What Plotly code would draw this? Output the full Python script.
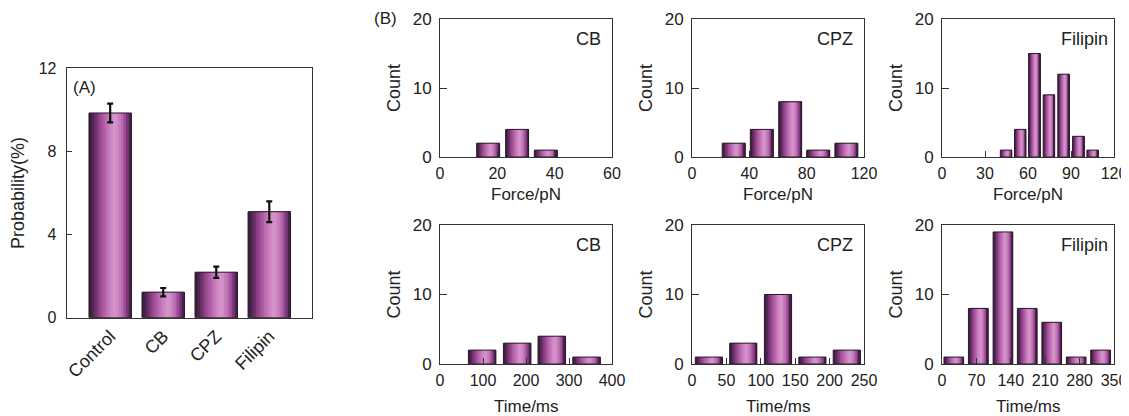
import plotly.graph_objects as go

# ---------------- data ----------------
groups = ["Control", "CB", "CPZ", "Filipin"]
prob = [9.85, 1.23, 2.19, 5.1]
prob_err = [0.45, 0.2, 0.27, 0.5]

force_cb_x = [16.8, 26.9, 36.9]
force_cb_y = [2, 4, 1]
force_cpz_x = [29.1, 48.7, 68.5, 88.1, 107.7]
force_cpz_y = [2, 4, 8, 1, 2]
force_fil_x = [44.7, 54.6, 64.4, 74.6, 84.8, 95.1, 105.1]
force_fil_y = [1, 4, 15, 9, 12, 3, 1]

time_cb_x = [98, 179.5, 260, 340.8]
time_cb_y = [2, 3, 4, 1]
time_cpz_x = [24.5, 74.5, 125, 175, 225]
time_cpz_y = [1, 3, 10, 1, 2]
time_fil_x = [24, 73.8, 124, 173.4, 223.3, 273, 322.6]
time_fil_y = [1, 8, 19, 8, 6, 1, 2]

force_cb_ticks = [0, 20, 40, 60]
force_cpz_ticks = [0, 40, 80, 120]
force_fil_ticks = [0, 30, 60, 90, 120]
time_cb_ticks = [0, 100, 200, 300, 400]
time_cpz_ticks = [0, 50, 100, 150, 200, 250]
time_fil_ticks = [0, 70, 140, 210, 280, 350]
count_ticks = [0, 10, 20]
prob_ticks = [0, 4, 8, 12]

# ---------------- style ----------------
WIN_W, WIN_H = 1129, 416
OFF = 8  # default page body margin
W, H = WIN_W - OFF, WIN_H - OFF
FONT = "Arial, Liberation Sans, sans-serif"
TXT = "#222222"
LINE = "#333333"
TICK_SIZE = 17
TITLE_SIZE = 18
NSLICE = 16
stops = [(0.0, (42, 26, 42)), (0.12, (96, 42, 94)), (0.3, (166, 80, 158)),
         (0.5, (204, 130, 192)), (0.62, (214, 152, 204)), (0.78, (188, 106, 178)),
         (0.9, (128, 55, 126)), (1.0, (46, 24, 48))]


def grad(t):
    for (p0, c0), (p1, c1) in zip(stops[:-1], stops[1:]):
        if p0 <= t <= p1:
            f = (t - p0) / (p1 - p0)
            c = [round(a + (b - a) * f) for a, b in zip(c0, c1)]
            return "rgb(%d,%d,%d)" % tuple(c)
    return "rgb(%d,%d,%d)" % stops[-1][1]


def fx(X):
    return (X - OFF) / W


def fy(Y):
    return 1 - (Y - OFF) / H


def px_x(a, b):
    return [fx(a), fx(b)]


def px_y(top, bottom):
    return [fy(bottom), fy(top)]


fig = go.Figure()


def add_bars(x, y, w, xa, ya, err=None):
    dw = w / NSLICE
    for i in range(NSLICE):
        t = (i + 0.5) / NSLICE
        fig.add_trace(go.Bar(x=x, y=y, width=w - i * dw, offset=-w / 2 + i * dw,
                             marker=dict(color=grad(t), line=dict(width=0)),
                             xaxis=xa, yaxis=ya, hoverinfo="skip", showlegend=False))
    fig.add_trace(go.Bar(x=x, y=y, width=w, offset=-w / 2,
                         marker=dict(color="rgba(0,0,0,0)", line=dict(color="#2a1a2a", width=1)),
                         error_y=(dict(type="data", array=err, color="#111111", thickness=2.2, width=3)
                                  if err is not None else None),
                         xaxis=xa, yaxis=ya, showlegend=False))


# Panel A
add_bars(groups, prob, 0.8, "x", "y", err=prob_err)

hist = [
    (force_cb_x, force_cb_y, 8, force_cb_ticks, [0, 60], "Force/pN", "CB", 0),
    (force_cpz_x, force_cpz_y, 16, force_cpz_ticks, [0, 120], "Force/pN", "CPZ", 0),
    (force_fil_x, force_fil_y, 8, force_fil_ticks, [0, 120], "Force/pN", "Filipin", 0),
    (time_cb_x, time_cb_y, 64, time_cb_ticks, [0, 400], "Time/ms", "CB", 1),
    (time_cpz_x, time_cpz_y, 39.5, time_cpz_ticks, [0, 250], "Time/ms", "CPZ", 1),
    (time_fil_x, time_fil_y, 40, time_fil_ticks, [0, 350], "Time/ms", "Filipin", 1),
]
cols = [(440, 612), (692, 864), (942, 1114)]
rows = [(19, 157), (225, 364)]
xtitle_y = [195, 406]

axis_common = dict(showline=True, linecolor=LINE, linewidth=1, mirror=True, automargin=False,
                   showgrid=False, zeroline=False, ticks="inside", tickcolor=LINE,
                   tickfont=dict(family=FONT, size=TICK_SIZE, color=TXT))

layout = dict(
    width=W, height=H, margin=dict(l=0, r=0, t=0, b=0, autoexpand=False),
    paper_bgcolor="white", plot_bgcolor="white", barmode="overlay",
    showlegend=False, font=dict(family=FONT, color=TXT),
    xaxis=dict(domain=px_x(66.7, 311.7), anchor="y", range=[-0.82, 3.8], type="category",
               showline=True, linecolor=LINE, linewidth=1, mirror=True, showgrid=False,
               zeroline=False, ticks="", tickangle=-45, automargin=False,
               tickfont=dict(family=FONT, size=18, color=TXT)),
    yaxis=dict(domain=px_y(68.3, 317.7), anchor="x", range=[0, 12], tickvals=prob_ticks,
               showline=True, linecolor=LINE, linewidth=1, mirror=True, showgrid=False,
               zeroline=False, ticks="inside", ticklen=5, tickcolor=LINE, automargin=False,
               ticklabelstandoff=6,
               tickfont=dict(family=FONT, size=16, color=TXT),
               title=dict(text="Probability(%)", font=dict(family=FONT, size=TITLE_SIZE, color=TXT),
                          standoff=10)),
)

annotations = [
    dict(text="(A)", x=fx(71), y=fy(87.5), xref="paper", yref="paper",
         xanchor="left", yanchor="middle", showarrow=False,
         font=dict(family=FONT, size=17, color=TXT)),
    dict(text="(B)", x=fx(372), y=fy(18), xref="paper", yref="paper",
         xanchor="left", yanchor="middle", showarrow=False,
         font=dict(family=FONT, size=17, color=TXT)),
]

for k, (hx, hy, w, tv, rng, xt, lab, r) in enumerate(hist):
    n = k + 2
    c = cols[k % 3]
    rr = rows[r]
    xa, ya = "x%d" % n, "y%d" % n
    add_bars(hx, hy, w, xa, ya)
    layout["xaxis%d" % n] = dict(axis_common, domain=px_x(*c), anchor=ya, range=rng,
                                 tickvals=tv, ticklen=6, ticklabelstandoff=2,
                                 tickfont=dict(family=FONT, size=16, color=TXT))
    layout["yaxis%d" % n] = dict(axis_common, domain=px_y(*rr), anchor=xa, range=[0, 20],
                                 tickvals=count_ticks, ticklen=7, ticklabelstandoff=4,
                                 title=dict(text="Count", font=dict(family=FONT, size=TITLE_SIZE, color=TXT),
                                            standoff=7))
    # x-axis title
    annotations.append(dict(text=xt, x=0.5, y=fy(xtitle_y[r]),
                            xref="%s domain" % xa, yref="paper",
                            xanchor="center", yanchor="middle", showarrow=False,
                            font=dict(family=FONT, size=17, color=TXT)))
    # panel label
    annotations.append(dict(text=lab, x=0.95 if lab != "Filipin" else 0.977, y=0.945,
                            xref="%s domain" % xa, yref="%s domain" % ya,
                            xanchor="right", yanchor="top", showarrow=False,
                            font=dict(family=FONT, size=TITLE_SIZE, color=TXT)))

layout["annotations"] = annotations
fig.update_layout(**layout)
fig.write_html("out.html")
